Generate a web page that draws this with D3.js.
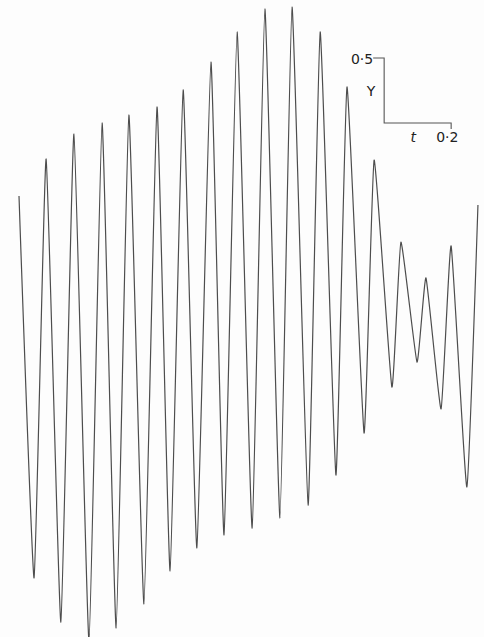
<!DOCTYPE html>
<html>
<head>
<meta charset="utf-8">
<script src="https://cdn.jsdelivr.net/npm/d3@7"></script>
<style>
  html, body { margin: 0; padding: 0; background: #fdfdfd; }
  svg { display: block; }
  .trace { fill: none; stroke: #4d4d4d; stroke-width: 1.2; stroke-linejoin: round; }
  .bar { stroke: #555; stroke-width: 1.1; fill: none; }
  .lbl { font-family: 'DejaVu Sans', sans-serif; font-size: 14px; fill: #222; }
</style>
</head>
<body>
<div id="chart"></div>
<script>
// turning points of the trace
var tValues = [0.000, 0.045, 0.081, 0.125, 0.164, 0.209, 0.248, 0.290, 0.328, 0.373,
               0.412, 0.451, 0.490, 0.531, 0.573, 0.612, 0.651, 0.696, 0.734, 0.779,
               0.815, 0.863, 0.899, 0.946, 0.979, 1.030, 1.060, 1.113, 1.140, 1.188,
               1.215, 1.260, 1.290, 1.337, 1.370]
var yValues = [0.992, -1.946, 1.277, -2.285, 1.469, -2.431, 1.554, -2.331, 1.615, -2.146,
               1.677, -1.892, 1.808, -1.715, 2.023, -1.615, 2.254, -1.562, 2.431, -1.485,
               2.446, -1.385, 2.254, -1.154, 1.831, -0.831, 1.269, -0.477, 0.638, -0.285,
               0.362, -0.646, 0.608, -1.246, 0.923]

// scale bar
var barOrigin = [1.09, 1.554]
var barT = 0.2
var barY = 0.5
var barLabels = ['0·5', 'Y', 't', '0·2']

var width = 484
var height = 637

var x = d3.scaleLinear().domain([0, 1.4]).range([19, 19 + 1.4 * 335])
var y = d3.scaleLinear().domain([-2.5, 2.5]).range([325 + 2.5 * 130, 325 - 2.5 * 130])

var svg = d3.select('#chart')
  .append('svg')
  .attr('width', width)
  .attr('height', height)

var data = tValues.map((t, i) => ({ t: t, v: yValues[i] }))

// sharp-ish tips like the pen trace
var line = d3.line()
  .x(d => x(d.t))
  .y(d => y(d.v))
  .curve(d3.curveCardinal.tension(0.6))

svg.append('path')
  .datum(data)
  .attr('class', 'trace')
  .attr('d', line)

// scale bar
var x0 = x(barOrigin[0]), y0 = y(barOrigin[1])
var x1 = x(barOrigin[0] + barT), y1 = y(barOrigin[1] + barY)
var g = svg.append('g').attr('class', 'scalebar')

g.append('path')
  .attr('class', 'bar')
  .attr('d', `M${x0 - 11},${y1}H${x0}V${y0}H${x1}V${y0 + 6}`)

g.append('text').attr('class', 'lbl')
  .attr('x', x0 - 11).attr('y', y1 + 6)
  .attr('text-anchor', 'end')
  .text(barLabels[0])

g.append('text').attr('class', 'lbl')
  .attr('x', x0 - 13).attr('y', (y0 + y1) / 2 + 6)
  .attr('text-anchor', 'middle')
  .text(barLabels[1])

g.append('text').attr('class', 'lbl')
  .attr('x', x0 + 29).attr('y', y0 + 19)
  .attr('text-anchor', 'middle')
  .style('font-style', 'italic')
  .text(barLabels[2])

g.append('text').attr('class', 'lbl')
  .attr('x', x1 - 15).attr('y', y0 + 19)
  .attr('text-anchor', 'start')
  .text(barLabels[3])
</script>
</body>
</html>
